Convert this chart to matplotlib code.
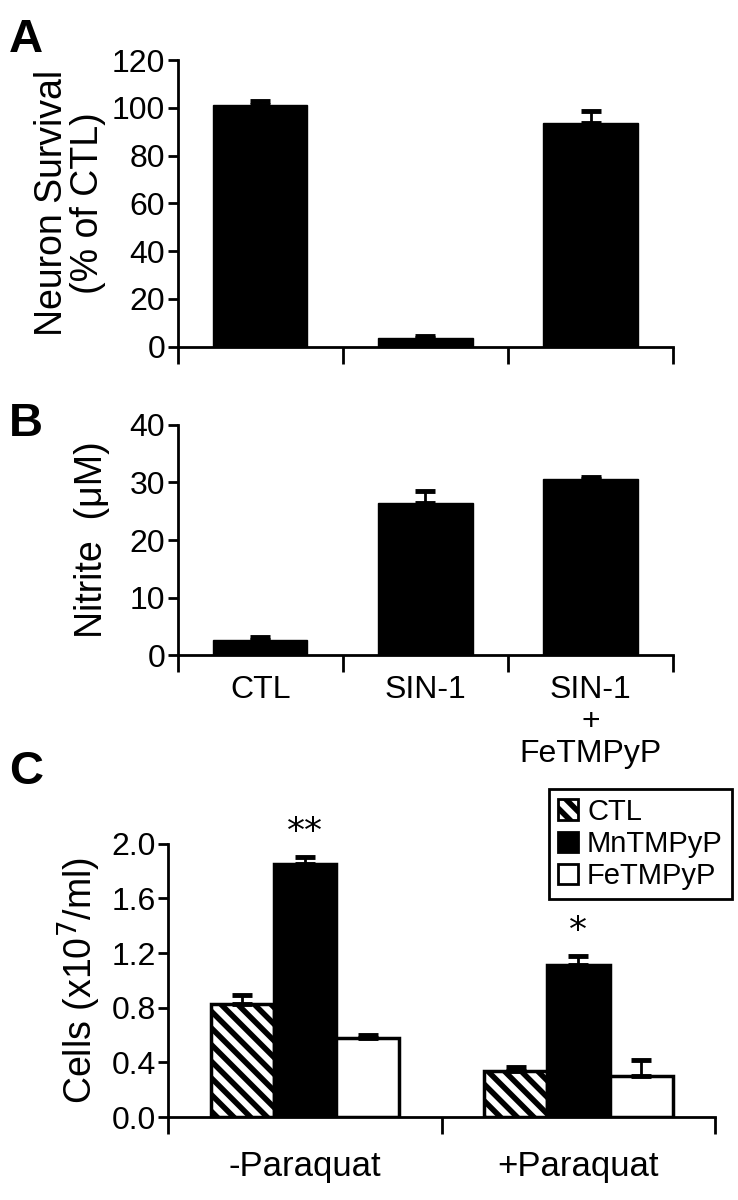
import numpy as np
import matplotlib
matplotlib.use('Agg')
import matplotlib.pyplot as plt
from matplotlib.patches import Patch

# panel A / B data
GROUPS_AB = ['CTL', 'SIN-1', 'SIN-1\n+\nFeTMPyP']
SURVIVAL = [101, 3.5, 93.5]
SURVIVAL_ERR = [2, 1, 5]
NITRITE = [2.6, 26.5, 30.6]
NITRITE_ERR = [0.6, 2.0, 0.4]

# panel C data
GROUPS_C = ['-Paraquat', '+Paraquat']
SERIES_C = ['CTL', 'MnTMPyP', 'FeTMPyP']
CELLS_CTL = [0.83, 0.34]
CELLS_MN = [1.85, 1.11]
CELLS_FE = [0.58, 0.30]
ERR_CTL = [0.06, 0.03]
ERR_MN = [0.05, 0.07]
ERR_FE = [0.02, 0.12]
STARS = ['**', '*']

plt.rcParams['font.family'] = ['Liberation Sans', 'DejaVu Sans']
plt.rcParams['hatch.linewidth'] = 4.0
plt.rcParams['axes.linewidth'] = 2.0

fig = plt.figure(figsize=(7.38, 12), dpi=100)

TICK_FS = 23
LABEL_FS = 27


def style_axes(ax):
    for side in ('top', 'right'):
        ax.spines[side].set_visible(False)
    ax.tick_params(axis='y', direction='out', length=7, width=2, labelsize=TICK_FS, pad=2)
    ax.tick_params(axis='x', direction='out', length=12, width=2, labelsize=TICK_FS)


def one_sided(ax, x, y, err):
    ax.errorbar(x, y, yerr=[np.zeros(len(err)), err], fmt='none', ecolor='black',
                elinewidth=2, capsize=7, capthick=3.5, zorder=3)


def plot_simple(ax, values, errs, ymax, step):
    x = np.arange(len(values))
    ax.bar(x, values, width=0.57, color='black', edgecolor='black', zorder=2)
    one_sided(ax, x, values, errs)
    ax.set_xlim(-0.5, len(values) - 0.5)
    ax.set_ylim(0, ymax)
    ax.set_yticks(np.arange(0, ymax + step / 2, step))
    ax.set_xticks(np.arange(len(values) + 1) - 0.5)
    ax.set_xticklabels([])
    style_axes(ax)
    return x


# Panel A
axA = fig.add_axes([0.241, 0.711, 0.671, 0.239])
plot_simple(axA, SURVIVAL, SURVIVAL_ERR, 120, 20)
axA.set_ylabel('Neuron Survival\n(% of CTL)', fontsize=LABEL_FS, labelpad=4, linespacing=1.0)
fig.text(0.012, 0.985, 'A', fontsize=34, fontweight='bold', va='top')

# Panel B
axB = fig.add_axes([0.241, 0.454, 0.671, 0.192])
xb = plot_simple(axB, NITRITE, NITRITE_ERR, 40, 10)
for xi, lab in zip(xb, GROUPS_AB):
    axB.text(xi, -0.085, lab, transform=axB.get_xaxis_transform(), ha='center', va='top',
             fontsize=TICK_FS, linespacing=1.1)
axB.set_ylabel('Nitrite  (\u03bcM)', fontsize=LABEL_FS, labelpad=14)
fig.text(0.012, 0.665, 'B', fontsize=34, fontweight='bold', va='top')

# Panel C
axC = fig.add_axes([0.228, 0.069, 0.741, 0.228])
xc = np.arange(len(GROUPS_C))
w = 0.23
vals = [CELLS_CTL, CELLS_MN, CELLS_FE]
errs = [ERR_CTL, ERR_MN, ERR_FE]
faces = ['white', 'black', 'white']
hatches = ['\\\\', None, None]
for i in range(3):
    pos = xc + (i - 1) * w
    axC.bar(pos, vals[i], width=w, color=faces[i], edgecolor='black', hatch=hatches[i],
            linewidth=2.5, zorder=2)
    one_sided(axC, pos, vals[i], errs[i])
for xi, v, e, s in zip(xc, CELLS_MN, ERR_MN, STARS):
    axC.text(xi, v + e + 0.06, s, ha='center', va='bottom', fontsize=26,
             family=['DejaVu Sans'])
axC.set_xlim(-0.5, 1.5)
axC.set_ylim(0, 2.0)
axC.set_yticks(np.arange(0, 2.01, 0.4))
axC.set_yticklabels(['%.1f' % t for t in np.arange(0, 2.01, 0.4)])
axC.set_xticks([-0.5, 0.5, 1.5])
axC.set_xticklabels([])
style_axes(axC)
for xi, lab in zip(xc, GROUPS_C):
    axC.text(xi, -0.12, lab, transform=axC.get_xaxis_transform(), ha='center', va='top',
             fontsize=25)
axC.set_ylabel('Cells (x10$^7$/ml)', fontsize=LABEL_FS, labelpad=6)
fig.text(0.012, 0.375, 'C', fontsize=34, fontweight='bold', va='top')

handles = [Patch(facecolor=faces[i], edgecolor='black', hatch=hatches[i], linewidth=2)
           for i in range(3)]
leg = axC.legend(handles, SERIES_C, loc='upper right', bbox_to_anchor=(1.03, 1.20),
                 fontsize=21, frameon=True, fancybox=False, framealpha=1,
                 handlelength=0.7, handleheight=0.7, handletextpad=0.3, borderpad=0.3,
                 labelspacing=0.15, borderaxespad=0)
leg.get_frame().set_edgecolor('black')
leg.get_frame().set_linewidth(2)

fig.savefig('out.png', dpi=100)
